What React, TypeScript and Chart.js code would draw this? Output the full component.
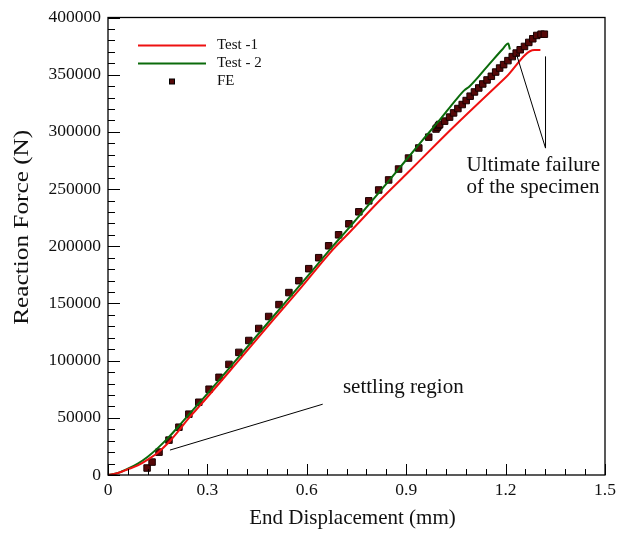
import React, { useEffect, useRef } from "react";
import { Chart, registerables } from "chart.js";

Chart.register(...registerables);

// ---- Data ----
const seriesLabels = ["Test -1", "Test - 2", "FE"];

const test1X = [0, 0.03, 0.06, 0.09, 0.12, 0.15, 0.18, 0.21, 0.24, 0.28, 0.4, 0.5, 0.58, 0.68, 0.73, 0.82, 0.9, 1.0, 1.06, 1.2, 1.287, 1.305];
const test1Y = [0, 1700, 5000, 8500, 13500, 19500, 27500, 37500, 48500, 61500, 102000, 136000, 163000, 197500, 212500, 240000, 263000, 292000, 309000, 347500, 371500, 371500];

const test2X = [0, 0.03, 0.06, 0.09, 0.12, 0.15, 0.18, 0.21, 0.24, 0.28, 0.4, 0.5, 0.6, 0.68, 0.73, 0.85, 0.95, 1.0, 1.05, 1.076, 1.09, 1.15, 1.19, 1.208, 1.213];
const test2Y = [0, 1800, 5500, 10000, 16000, 23500, 32000, 41500, 51500, 64500, 105000, 139000, 173000, 200500, 217000, 258000, 293000, 310000, 328000, 336500, 339500, 359000, 372000, 377300, 372000];

const feX = [0.118, 0.133, 0.154, 0.184, 0.214, 0.244, 0.274, 0.305, 0.335, 0.365, 0.395, 0.425, 0.455, 0.485, 0.516, 0.546, 0.576, 0.606, 0.636, 0.666, 0.696, 0.727, 0.757, 0.787, 0.817, 0.847, 0.877, 0.907, 0.938, 0.968, 0.99, 0.994, 0.998, 1.001, 1.016, 1.031, 1.043, 1.056, 1.069, 1.081, 1.093, 1.106, 1.119, 1.131, 1.144, 1.157, 1.17, 1.182, 1.194, 1.207, 1.22, 1.232, 1.244, 1.257, 1.27, 1.282, 1.294, 1.307, 1.317];
const feY = [6100, 11300, 20000, 30500, 41800, 53200, 63600, 75000, 85400, 96700, 107200, 117600, 128100, 138600, 149000, 159500, 169900, 180400, 190000, 200400, 210000, 219600, 230100, 239700, 249200, 258000, 267500, 277100, 285900, 295400, 302500, 304000, 305500, 306500, 309400, 312900, 316600, 320400, 323900, 327400, 331200, 334900, 338400, 341900, 345400, 348600, 352300, 355800, 358800, 362300, 365800, 368900, 371800, 374700, 378200, 381400, 384300, 385400, 385400];

const xMin = 0, xMax = 1.5, xStep = 0.3, xMinorStep = 0.06;
const yMin = 0, yMax = 400000, yStep = 50000, yMinorStep = 10000;

const xTitle = "End Displacement (mm)";
const yTitle = "Reaction Force (N)";

// annotations in data coordinates
const settlingText = "settling region";
const settlingTextPos = [0.709, 76700];
const settlingLine = [[0.187, 21800], [0.648, 61900]];
const failureText = ["Ultimate failure", "of the specimen"];
const failureTextPos = [[1.082, 270200], [1.082, 251000]];
const failureLines = [
  [[1.3205, 285800], [1.233, 367700]],
  [[1.3205, 285800], [1.3205, 366000]],
];

const RED = "#ee1111";
const GREEN = "#0b6b0b";
const FE_FILL = "#560808";
const SERIF = '"Liberation Serif", "Times New Roman", serif';

const zip = (xs: number[], ys: number[]) => xs.map((x, i) => ({ x, y: ys[i] }));

const framePlugin = {
  id: "frameTicks",
  afterDraw(chart: any) {
    const { ctx, chartArea } = chart;
    const { left, right, top, bottom } = chartArea;
    const xs = chart.scales.x;
    const ys = chart.scales.y;
    ctx.save();
    ctx.strokeStyle = "#000";
    ctx.lineWidth = 1.3;
    ctx.strokeRect(left, top, right - left, bottom - top);
    ctx.lineWidth = 1;
    const nx = Math.round((xMax - xMin) / xMinorStep);
    for (let i = 0; i <= nx; i++) {
      const v = xMin + i * xMinorStep;
      const px = Math.round(xs.getPixelForValue(v)) + 0.5;
      const len = i % 5 === 0 ? 11 : 6;
      ctx.beginPath();
      ctx.moveTo(px, bottom);
      ctx.lineTo(px, bottom - len);
      ctx.stroke();
    }
    const ny = Math.round((yMax - yMin) / yMinorStep);
    for (let i = 0; i <= ny; i++) {
      const v = yMin + i * yMinorStep;
      const py = Math.round(ys.getPixelForValue(v)) + 0.5;
      const len = i % 5 === 0 ? 12 : 7;
      ctx.beginPath();
      ctx.moveTo(left, py);
      ctx.lineTo(left + len, py);
      ctx.stroke();
    }

    // axis titles
    ctx.fillStyle = "#111";
    ctx.font = `21px ${SERIF}`;
    ctx.textAlign = "center";
    ctx.textBaseline = "middle";
    ctx.fillText(xTitle, (left + right) / 2 - 4, 518);
    ctx.save();
    ctx.translate(22, (top + bottom) / 2 - 19);
    ctx.rotate(-Math.PI / 2);
    const w = ctx.measureText(yTitle).width;
    ctx.scale(195 / w, 1);
    ctx.fillText(yTitle, 0, 0);
    ctx.restore();

    // annotations
    const P = (p: number[]) => [xs.getPixelForValue(p[0]), ys.getPixelForValue(p[1])];
    ctx.strokeStyle = "#000";
    ctx.lineWidth = 1;
    const drawLine = (seg: number[][]) => {
      const a = P(seg[0]);
      const b = P(seg[1]);
      ctx.beginPath();
      ctx.moveTo(a[0], a[1]);
      ctx.lineTo(b[0], b[1]);
      ctx.stroke();
    };
    drawLine(settlingLine);
    failureLines.forEach(drawLine);
    ctx.textAlign = "left";
    ctx.font = `21px ${SERIF}`;
    const s = P(settlingTextPos);
    ctx.fillText(settlingText, s[0], s[1]);
    failureText.forEach((t, i) => {
      const q = P(failureTextPos[i]);
      ctx.fillText(t, q[0], q[1]);
    });

    // legend
    const colors = [RED, GREEN];
    ctx.font = `15px ${SERIF}`;
    for (let i = 0; i < 3; i++) {
      const y = top + 28 + i * 18;
      if (i < 2) {
        ctx.strokeStyle = colors[i];
        ctx.lineWidth = 2;
        ctx.beginPath();
        ctx.moveTo(left + 30, y);
        ctx.lineTo(left + 98, y);
        ctx.stroke();
      } else {
        ctx.fillStyle = FE_FILL;
        ctx.strokeStyle = "#000";
        ctx.lineWidth = 1;
        ctx.fillRect(left + 61.5, y - 2.5, 5, 5);
        ctx.strokeRect(left + 61.5, y - 2.5, 5, 5);
      }
      ctx.fillStyle = "#111";
      ctx.fillText(seriesLabels[i], left + 109, y);
    }
    ctx.restore();
  },
};

export default function App() {
  const ref = useRef<HTMLCanvasElement | null>(null);
  useEffect(() => {
    if (!ref.current) return;
    const chart = new Chart(ref.current, {
      type: "scatter",
      data: {
        datasets: [
          {
            label: seriesLabels[0],
            data: zip(test1X, test1Y),
            showLine: true,
            borderColor: RED,
            borderWidth: 2,
            pointRadius: 0,
            cubicInterpolationMode: "monotone",
          },
          {
            label: seriesLabels[1],
            data: zip(test2X, test2Y),
            showLine: true,
            borderColor: GREEN,
            borderWidth: 2,
            pointRadius: 0,
            cubicInterpolationMode: "monotone",
          },
          {
            label: seriesLabels[2],
            data: zip(feX, feY),
            showLine: false,
            pointStyle: "rect",
            pointRadius: 4.6,
            backgroundColor: FE_FILL,
            borderColor: "#1a0000",
            borderWidth: 1,
          },
        ] as any,
      },
      options: {
        responsive: false,
        animation: false,
        devicePixelRatio: 1,
        events: [],
        layout: { padding: { top: 16, right: 19, left: 0, bottom: 0 } },
        plugins: {
          legend: { display: false },
          tooltip: { enabled: false },
        },
        scales: {
          x: {
            type: "linear",
            min: xMin,
            max: xMax,
            grid: { display: false, drawTicks: false },
            border: { display: false },
            ticks: {
              stepSize: xStep,
              padding: 5,
              color: "#111",
              font: { family: SERIF, size: 17.5 },
              callback: (v: any) => (Number(v) === 0 ? "0" : Number(v).toFixed(1)),
            },
            afterFit: (scale: any) => {
              scale.height = 58;
            },
          },
          y: {
            type: "linear",
            min: yMin,
            max: yMax,
            grid: { display: false, drawTicks: false },
            border: { display: false },
            ticks: {
              stepSize: yStep,
              padding: 7,
              color: "#111",
              font: { family: SERIF, size: 17.5 },
              callback: (v: any) => String(Math.round(Number(v))),
            },
            afterFit: (scale: any) => {
              scale.width = 108;
            },
          },
        },
      } as any,
      plugins: [framePlugin],
    });
    return () => chart.destroy();
  }, []);
  return (
    <div style={{ position: "fixed", left: 0, top: 0, width: 624, height: 533, background: "#fff" }}>
      <canvas ref={ref} width={624} height={533} style={{ width: 624, height: 533, display: "block" }} />
    </div>
  );
}
